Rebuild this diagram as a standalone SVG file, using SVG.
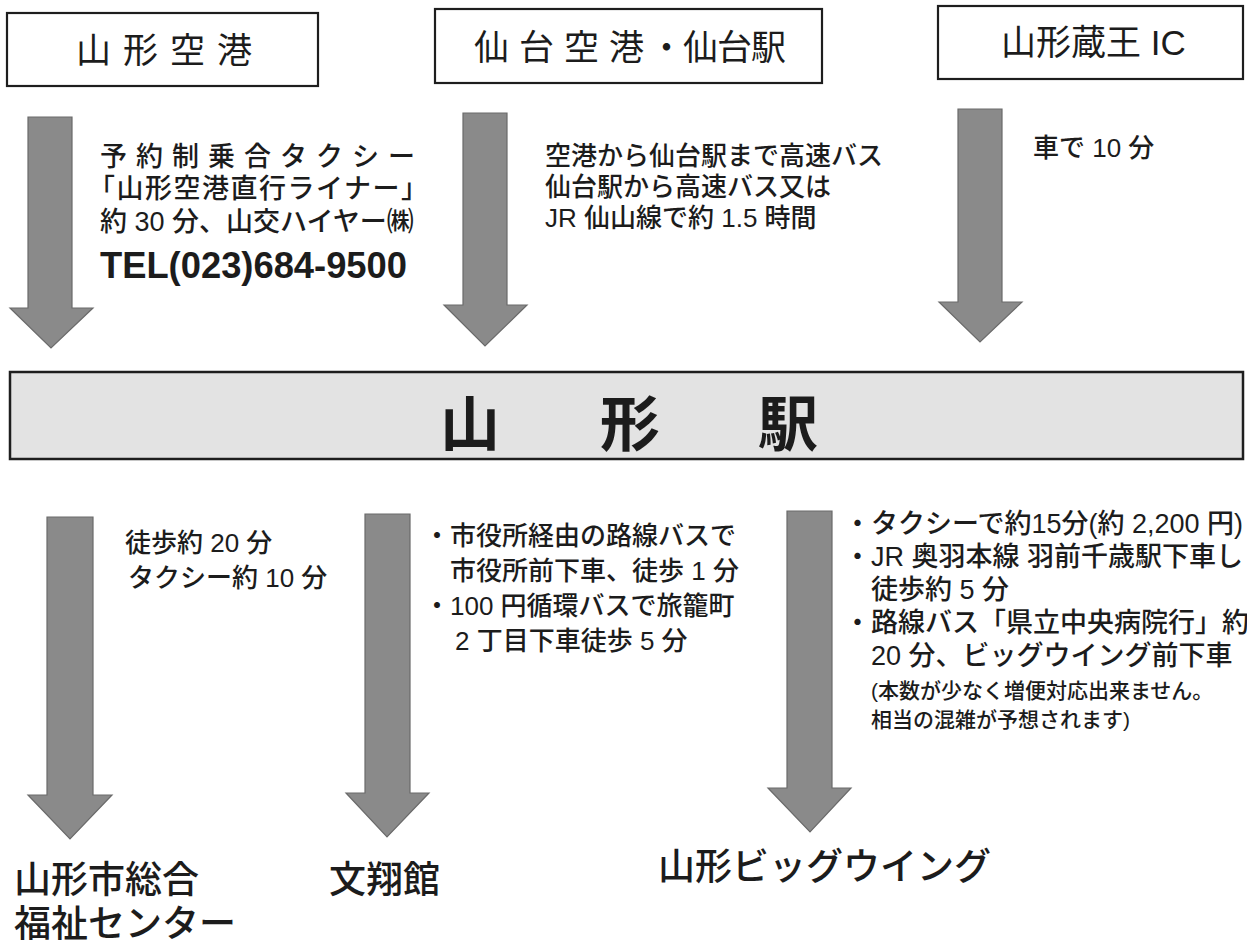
<svg xmlns="http://www.w3.org/2000/svg" width="1247" height="946" viewBox="0 0 1247 946">
<style>
.box{fill:#fff;stroke:#1e1e1e;stroke-width:2.2}
.bar{fill:#e3e3e3;stroke:#1e1e1e;stroke-width:2.5}
.arr{fill:#8a8a8a;stroke:#6a6a6a;stroke-width:1.2}
text{font-family:"Liberation Sans","Noto Sans CJK JP",sans-serif;fill:#1c1c1c;font-weight:500}
.t{font-size:35px;font-weight:normal}
.n{font-size:26px}
.r{font-size:27px}
.m{font-size:27px}
.s{font-size:21px}
.big{font-size:60px;font-weight:bold}
.lab{font-size:37px}
.tel{font-size:37px;font-weight:bold}
</style>
<rect width="1247" height="946" fill="#fff"/>
<g id="node-yamagata-airport">
<rect class="box" x="7" y="13" width="311" height="73"/>
<text class="t" x="76 123 170 217" y="63">山形空港</text>
</g>
<g id="node-sendai">
<rect class="box" x="435" y="9" width="387" height="74"/>
<text class="t" x="474 519 564 609 649 683 717 751" y="60">仙台空港・仙台駅</text>
</g>
<g id="node-zao-ic">
<rect class="box" x="938" y="6" width="305" height="73"/>
<text class="t" x="1001" y="55">山形蔵王 IC</text>
</g>
<g id="node-yamagata-station">
<rect class="bar" x="10" y="372" width="1233" height="87"/>
<text class="big" x="440 600 758" y="446">山形駅</text>
</g>
<g id="node-sogo-fukushi">
<text class="lab" x="14" y="893">山形市総合</text>
<text class="lab" x="14" y="937">福祉センター</text>
</g>
<g id="node-bunshokan">
<text class="lab" x="329" y="893">文翔館</text>
</g>
<g id="node-bigwing">
<text class="lab" x="658" y="880">山形ビッグウイング</text>
</g>
<g id="connectors">
<polygon class="arr" points="28,117 72,117 72,308 93,308 51,348 10,308 28,308"/>
<polygon class="arr" points="463,113 507,113 507,305 527,305 485,346 444,305 463,305"/>
<polygon class="arr" points="958,109 1002,109 1002,302 1022,302 980,342 939,302 958,302"/>
<polygon class="arr" points="47,517 93,517 93,795 112,795 70,839 28,795 47,795"/>
<polygon class="arr" points="365,514 410,514 410,793 429,793 387,837 346,793 365,793"/>
<polygon class="arr" points="787,511 832,511 832,788 851,788 810,832 768,788 787,788"/>
</g>
<g id="labels">
<text class="m" x="100" y="166" letter-spacing="9">予約制乗合タクシー</text>
<text class="m" x="88" y="198" letter-spacing="1.5">「山形空港直行ライナー」</text>
<text class="m" x="100" y="231">約 30 分、山交ハイヤー㈱</text>
<text class="tel" x="100" y="278" textLength="307" lengthAdjust="spacingAndGlyphs">TEL(023)684-9500</text>
<text class="n" x="545" y="165">空港から仙台駅まで高速バス</text>
<text class="n" x="545" y="196">仙台駅から高速バス又は</text>
<text class="n" x="545" y="227">JR 仙山線で約 1.5 時間</text>
<text class="n" x="1033" y="157">車で 10 分</text>
<text class="n" x="125" y="552">徒歩約 20 分</text>
<text class="n" x="128" y="587">タクシー約 10 分</text>
<text class="n" x="424" y="545">・市役所経由の路線バスで</text>
<text class="n" x="450" y="580">市役所前下車、徒歩 1 分</text>
<text class="n" x="424" y="615">・100 円循環バスで旅籠町</text>
<text class="n" x="455" y="650">2 丁目下車徒歩 5 分</text>
<text class="r" x="844" y="533">・タクシーで約15分(約 2,200 円)</text>
<text class="r" x="844" y="566">・JR 奥羽本線 羽前千歳駅下車し</text>
<text class="r" x="871" y="599">徒歩約 5 分</text>
<text class="r" x="844" y="632">・路線バス「県立中央病院行」約</text>
<text class="r" x="871" y="665">20 分、ビッグウイング前下車</text>
<text class="s" x="871" y="698">(本数が少なく増便対応出来ません。</text>
<text class="s" x="871" y="727">相当の混雑が予想されます)</text>
</g>
</svg>
